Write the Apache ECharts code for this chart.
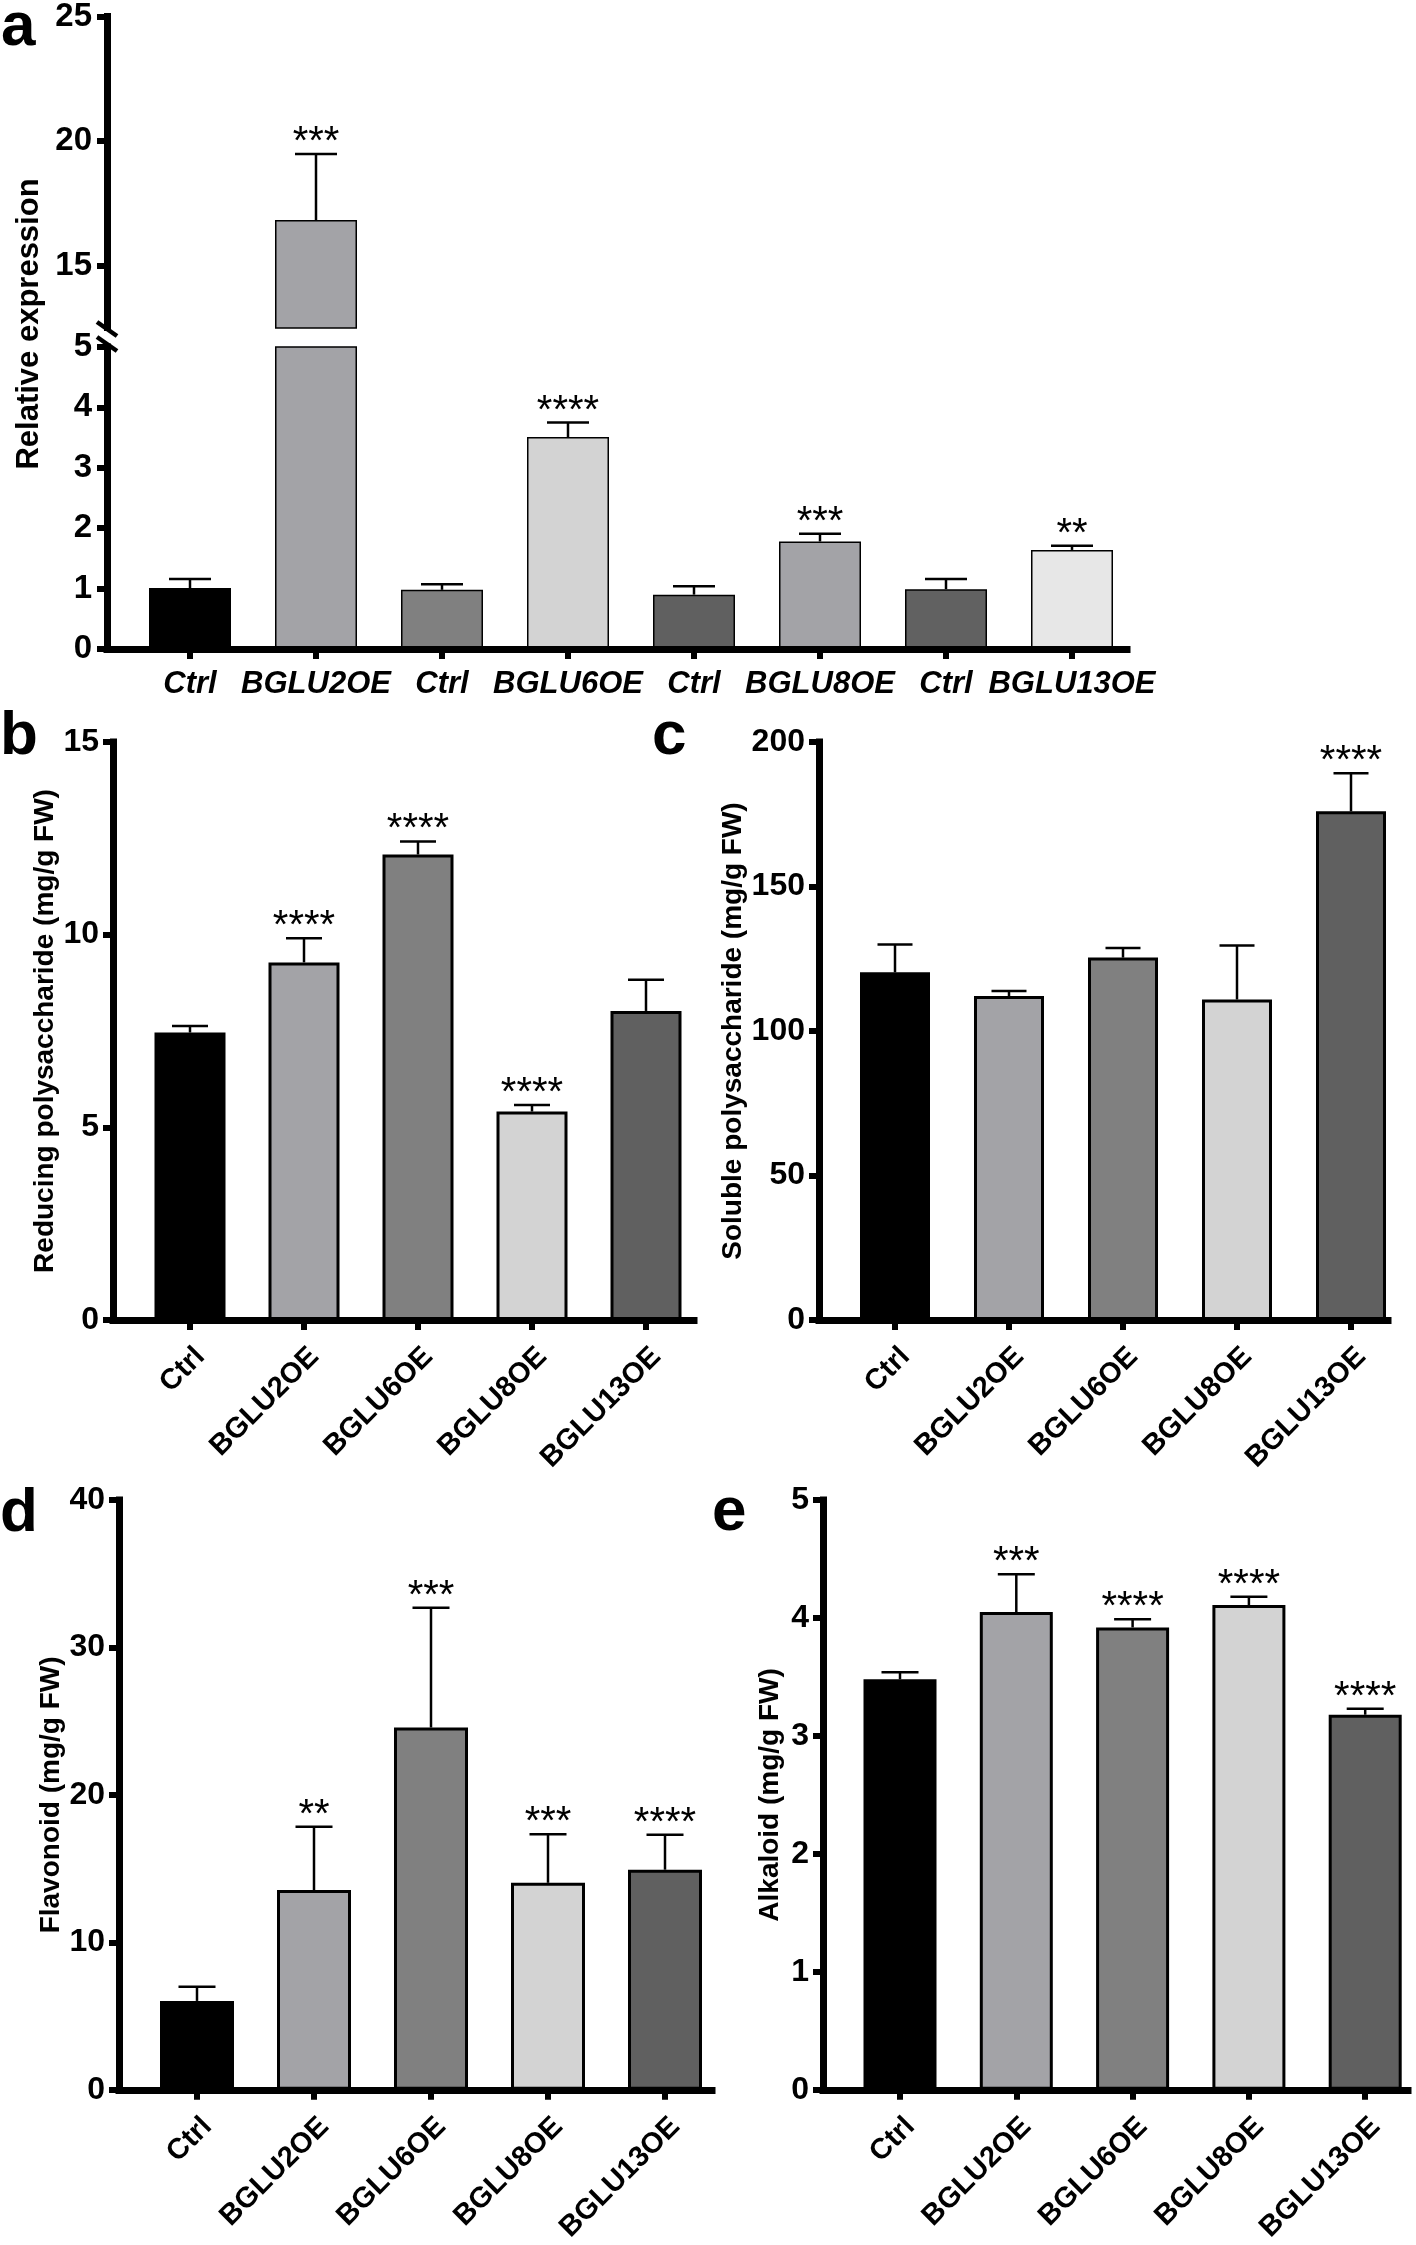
<!DOCTYPE html>
<html><head><meta charset="utf-8">
<script src="https://cdn.jsdelivr.net/npm/echarts@6/dist/echarts.min.js"></script>
<style>html,body{margin:0;padding:0;background:#fff}#c{width:1416px;height:2245px}</style>
</head><body><div id="c"></div>
<script>
// ---------------- data ----------------
const catsA = ['Ctrl','BGLU2OE','Ctrl','BGLU6OE','Ctrl','BGLU8OE','Ctrl','BGLU13OE'];
const meanA = [1.01, 16.83, 0.98, 3.51, 0.90, 1.78, 0.99, 1.64];
const sdA   = [0.15, 2.65, 0.09, 0.24, 0.14, 0.13, 0.17, 0.07];
const sigA  = ['', '***', '', '****', '', '***', '', '**'];
const yTicksAHigh = [15, 20, 25];

const catsBE = ['Ctrl','BGLU2OE','BGLU6OE','BGLU8OE','BGLU13OE'];
const meanB = [7.46, 9.28, 12.08, 5.41, 8.02];
const sdB   = [0.17, 0.63, 0.34, 0.17, 0.81];
const sigB  = ['', '****', '****', '****', ''];
const meanC = [120.3, 112.1, 125.4, 110.9, 176.0];
const sdC   = [9.6, 1.7, 3.3, 18.7, 13.2];
const sigC  = ['', '', '', '', '****'];
const meanD = [6.03, 13.55, 24.57, 14.04, 14.93];
const sdD   = [0.96, 4.29, 8.13, 3.30, 2.37];
const sigD  = ['', '**', '***', '***', '****'];
const meanE = [3.48, 4.05, 3.92, 4.11, 3.18];
const sdE   = [0.06, 0.32, 0.07, 0.07, 0.05];
const sigE  = ['', '***', '****', '****', '****'];

// ---------------- styles / layout ----------------
const FONT = "'Liberation Sans', Arial, Helvetica, sans-serif";
const colorsA  = ['#000000','#a3a3a7','#808080','#d3d3d3','#606060','#a3a3a7','#616161','#e7e7e7'];
const colorsBE = ['#000000','#a3a3a7','#808080','#d3d3d3','#606060'];
const AXW = 7, TKW = 6;

const grids = [], xAxes = [], yAxes = [], series = [], graphics = [];

function xAxisDef(gi, lay, cats, show, label) {
  const idx = cats.map((c, i) => i);
  return {
    type: 'value', gridIndex: gi, show: show, z: 5,
    min: -(lay.firstX - lay.axisX) / lay.step,
    max: (lay.endX - lay.firstX) / lay.step,
    axisLine: {show: true, onZero: false, lineStyle: {color: '#000', width: AXW, cap: 'square'}},
    axisTick: {show: true, customValues: idx, length: 10, lineStyle: {color: '#000', width: TKW}},
    axisLabel: Object.assign({show: true, customValues: idx, formatter: v => cats[Math.round(v)] || '',
      color: '#000', fontFamily: FONT, fontWeight: 'bold'}, label),
    splitLine: {show: false}
  };
}
function yAxisDef(gi, min, max, interval, fontSize, margin, extra) {
  return Object.assign({
    type: 'value', gridIndex: gi, min: min, max: max, interval: interval, z: 5,
    axisLine: {show: true, onZero: false, lineStyle: {color: '#000', width: AXW, cap: 'square'}},
    axisTick: {show: true, length: 10, lineStyle: {color: '#000', width: TKW}},
    axisLabel: {color: '#000', fontFamily: FONT, fontWeight: 'bold', fontSize: fontSize, margin: margin},
    splitLine: {show: false}
  }, extra || {});
}
function barSeries(ai, idxs, mean, colors, barW, bw) {
  return {
    type: 'bar', xAxisIndex: ai, yAxisIndex: ai, barWidth: barW, clip: true, silent: true, z: 2,
    data: idxs.map(i => ({value: [i, mean[i]], itemStyle: {color: colors[i], borderColor: '#000', borderWidth: bw}}))
  };
}
function errSeries(ai, idxs, mean, sd, sig, capW, lw, sigSize) {
  return {
    type: 'custom', xAxisIndex: ai, yAxisIndex: ai, silent: true, z: 4,
    data: idxs.map(i => [i, mean[i], mean[i] + sd[i]]),
    renderItem: function (params, api) {
      const i = api.value(0);
      const pm = api.coord([i, api.value(1)]);
      const pt = api.coord([i, api.value(2)]);
      const ch = [
        {type: 'line', shape: {x1: pm[0], y1: pm[1], x2: pt[0], y2: pt[1]}, style: {stroke: '#000', lineWidth: lw}},
        {type: 'line', shape: {x1: pt[0] - capW / 2, y1: pt[1], x2: pt[0] + capW / 2, y2: pt[1]}, style: {stroke: '#000', lineWidth: lw}}
      ];
      if (sig[i]) ch.push({type: 'text', x: pt[0], y: pt[1] + 9,
        style: {text: sig[i], fill: '#000', fontSize: sigSize, fontFamily: FONT, fontWeight: 'normal', align: 'center', verticalAlign: 'bottom'}});
      return {type: 'group', children: ch};
    }
  };
}

// ---------------- panel a (broken axis: two grids) ----------------
const layA = {axisX: 107, firstX: 190, step: 126, endX: 1127};
const allA = catsA.map((c, i) => i);
const lowA = allA.filter(i => meanA[i] <= 5);
const highA = allA.filter(i => meanA[i] > 5);
// lower part 0..5
grids.push({left: layA.axisX, top: 347, width: layA.endX - layA.axisX, height: 302});
xAxes.push(xAxisDef(0, layA, catsA, true, {fontSize: 31, fontStyle: 'italic', margin: 20}));
yAxes.push(yAxisDef(0, 0, 5, 1, 33, 15));
series.push(barSeries(0, allA, meanA, colorsA, 82, 1.5));
series.push(errSeries(0, lowA, meanA, sdA, sigA, 42, 2.5, 40));
// upper part 12.5..25
grids.push({left: layA.axisX, top: 13, width: layA.endX - layA.axisX, height: 315});
xAxes.push(xAxisDef(1, layA, catsA, false, {}));
yAxes.push(yAxisDef(1, 12.5, 25, null, 33, 15, {
  axisTick: {show: true, customValues: yTicksAHigh, length: 10, lineStyle: {color: '#000', width: TKW}},
  axisLabel: {customValues: yTicksAHigh, color: '#000', fontFamily: FONT, fontWeight: 'bold', fontSize: 33, margin: 15}
}));
delete yAxes[1].interval;
series.push(barSeries(1, highA, meanA, colorsA, 82, 1.5));
series.push(errSeries(1, highA, meanA, sdA, sigA, 42, 2.5, 40));

// ---------------- panels b-e ----------------
const panels = [
  {lay: {axisX: 113, firstX: 190, step: 114, endX: 694}, top: 742, bottom: 1320, max: 15, interval: 5, barW: 71,
   mean: meanB, sd: sdB, sig: sigB, title: 'Reducing polysaccharide (mg/g FW)', nameGap: 54},
  {lay: {axisX: 819, firstX: 895, step: 114, endX: 1388}, top: 742, bottom: 1320, max: 200, interval: 50, barW: 70,
   mean: meanC, sd: sdC, sig: sigC, title: 'Soluble polysaccharide (mg/g FW)', nameGap: 70},
  {lay: {axisX: 119, firstX: 197, step: 117, endX: 712}, top: 1500, bottom: 2091, max: 40, interval: 10, barW: 74,
   mean: meanD, sd: sdD, sig: sigD, title: 'Flavonoid (mg/g FW)', nameGap: 50},
  {lay: {axisX: 823, firstX: 900, step: 116.3, endX: 1408}, top: 1500, bottom: 2091, max: 5, interval: 1, barW: 73,
   mean: meanE, sd: sdE, sig: sigE, title: 'Alkaloid (mg/g FW)', nameGap: 39}
];
const allBE = catsBE.map((c, i) => i);
panels.forEach(p => {
  const gi = grids.length;
  grids.push({left: p.lay.axisX, top: p.top, width: p.lay.endX - p.lay.axisX, height: p.bottom - p.top});
  xAxes.push(xAxisDef(gi, p.lay, catsBE, true, {fontSize: 29, rotate: 45, margin: 22, align: 'right', verticalAlign: 'top'}));
  yAxes.push(yAxisDef(gi, 0, p.max, p.interval, 32, 14, {
    name: p.title, nameLocation: 'middle', nameRotate: 90, nameGap: p.nameGap,
    nameTextStyle: {color: '#000', fontFamily: FONT, fontWeight: 'bold', fontSize: 28}
  }));
  series.push(barSeries(gi, allBE, p.mean, colorsBE, p.barW, 3));
  series.push(errSeries(gi, allBE, p.mean, p.sd, p.sig, Math.round(p.barW / 2), 2.5, 40));
});

// ---------------- decorations ----------------
const letterStyle = {fill: '#000', fontFamily: FONT, fontWeight: 'bold', fontSize: 62, align: 'left', verticalAlign: 'middle'};
[['a', 1, 28], ['b', 0, 737], ['c', 652, 737], ['d', 0, 1514], ['e', 712, 1513]].forEach(l => {
  graphics.push({type: 'text', x: l[1], y: l[2], style: Object.assign({text: l[0]}, letterStyle)});
});
graphics.push({type: 'text', x: 29, y: 324, rotation: Math.PI / 2,
  style: {text: 'Relative expression', fill: '#000', fontFamily: FONT, fontWeight: 'bold', fontSize: 31, align: 'center', verticalAlign: 'middle'}});
// axis break marks
graphics.push({type: 'line', shape: {x1: 97, y1: 322, x2: 117, y2: 336}, style: {stroke: '#000', lineWidth: 4.5}});
graphics.push({type: 'line', shape: {x1: 97, y1: 337, x2: 117, y2: 351}, style: {stroke: '#000', lineWidth: 4.5}});
graphics.push({type: 'rect', shape: {x: 100, y: 331, width: 14, height: 12}, style: {fill: '#fff'}, z: 100});
graphics.forEach(g => { if (g.z === undefined) g.z = 101; });

const chart = echarts.init(document.getElementById('c'), null, {renderer: 'canvas', width: 1416, height: 2245});
chart.setOption({
  animation: false,
  backgroundColor: '#fff',
  textStyle: {fontFamily: FONT},
  grid: grids, xAxis: xAxes, yAxis: yAxes, series: series, graphic: graphics
});
</script></body></html>
